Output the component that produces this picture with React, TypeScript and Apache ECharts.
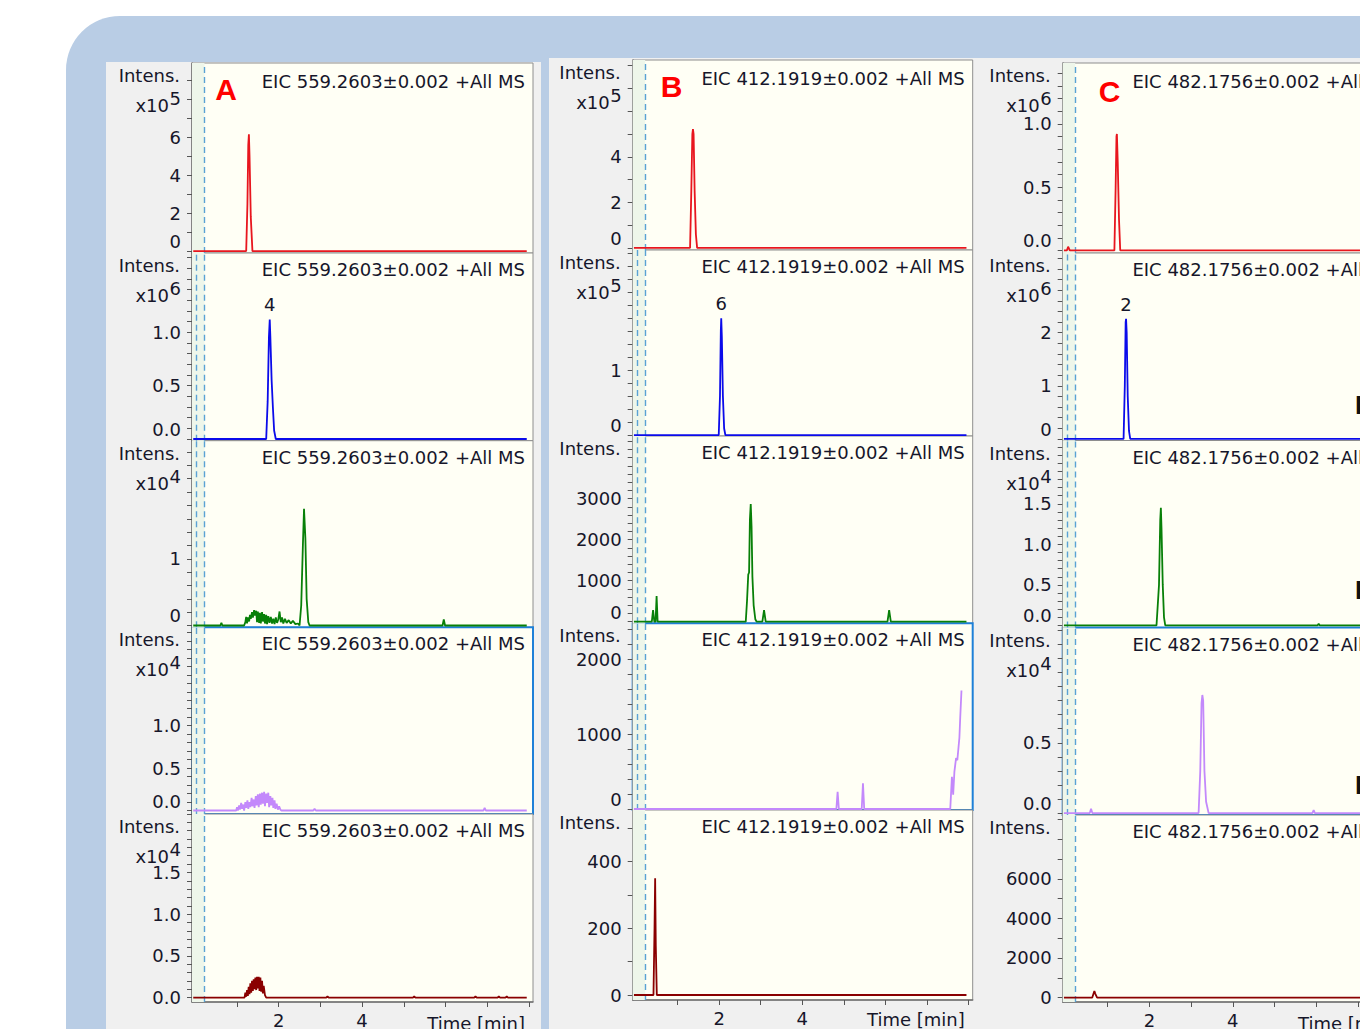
import React, { useEffect, useRef } from "react";
import * as echarts from "echarts";

const FONT = "DejaVu Sans";
const TEXT = "#16162a";

// ---------- time axis ----------
const X_MIN = -0.08;
const X_MAX = 8.1;
const timeTicks = [1, 2, 3, 4, 5, 6, 7, 8];
const timeLabels = [2, 4];
const timeTitle = "Time [min]";
const dashedOne = [0.22];
const dashedTwo = [0.03, 0.22];

// ---------- titles ----------
const panelLetters = ["A", "B", "C"];
const eicTitles = [
  "EIC 559.2603±0.002 +All MS",
  "EIC 412.1919±0.002 +All MS",
  "EIC 482.1756±0.002 +All MS",
];
const peakLabels = ["4", "6", "2"];

// ---------- traces: [time (min), intensity in displayed units] ----------
// Panel A
const aRed = [[-0.05, 0], [1.22, 0], [1.25, 2.5], [1.27, 5.6], [1.285, 6.15], [1.3, 5.0], [1.33, 1.8], [1.37, 0], [7.95, 0]];
const aBlue = [[-0.05, 0], [1.7, 0], [1.735, 0.35], [1.765, 0.95], [1.785, 1.12], [1.8, 0.95], [1.83, 0.55], [1.86, 0.3], [1.89, 0.08], [1.93, 0], [7.95, 0]];
const aGreen = [[-0.05, 0], [0.6, 0], [0.625, 0.04], [0.65, 0], [1.17, 0], [1.2, 0.05], [1.22, 0.13], [1.24, 0.03], [1.26, 0.12], [1.29, 0.06], [1.31, 0.16], [1.33, 0.1], [1.36, 0.2], [1.38, 0.12], [1.41, 0.23], [1.43, 0.15], [1.46, 0.22], [1.48, 0.05], [1.5, 0.21], [1.53, 0.04], [1.55, 0.19], [1.57, 0.03], [1.6, 0.2], [1.62, 0.06], [1.65, 0.17], [1.67, 0.03], [1.7, 0.16], [1.72, 0.02], [1.75, 0.14], [1.78, 0.04], [1.81, 0.13], [1.84, 0.03], [1.87, 0.1], [1.9, 0.02], [1.93, 0.12], [1.96, 0.04], [1.99, 0.09], [2.02, 0.21], [2.05, 0.05], [2.08, 0.12], [2.11, 0.03], [2.15, 0.1], [2.19, 0.04], [2.24, 0.08], [2.29, 0.03], [2.34, 0.07], [2.4, 0.02], [2.46, 0.03], [2.5, 0], [2.54, 0.3], [2.58, 1.2], [2.607, 1.75], [2.64, 1.3], [2.67, 0.4], [2.71, 0.05], [2.74, 0], [5.93, 0], [5.96, 0.09], [5.99, 0], [7.95, 0]];
const aPurple = [[-0.05, 0], [0.98, 0], [1.0, 0.04], [1.02, 0.0], [1.05, 0.06], [1.07, 0.01], [1.1, 0.09], [1.12, 0.02], [1.15, 0.07], [1.17, 0.0], [1.2, 0.1], [1.22, 0.03], [1.25, 0.12], [1.27, 0.02], [1.3, 0.1], [1.32, 0.04], [1.35, 0.15], [1.37, 0.05], [1.4, 0.13], [1.42, 0.03], [1.45, 0.17], [1.47, 0.06], [1.5, 0.19], [1.52, 0.04], [1.55, 0.2], [1.57, 0.07], [1.6, 0.21], [1.62, 0.08], [1.65, 0.22], [1.67, 0.05], [1.7, 0.2], [1.72, 0.09], [1.75, 0.21], [1.77, 0.04], [1.8, 0.17], [1.82, 0.06], [1.85, 0.15], [1.87, 0.03], [1.9, 0.12], [1.92, 0.02], [1.95, 0.08], [1.98, 0.01], [2.01, 0.05], [2.04, 0.01], [2.065, 0], [2.83, 0], [2.86, 0.02], [2.89, 0], [6.91, 0], [6.94, 0.03], [6.97, 0], [7.95, 0]];
const aDarkRed = [[-0.05, 0], [1.18, 0], [1.2, 0.06], [1.22, 0.01], [1.24, 0.09], [1.26, 0.02], [1.28, 0.13], [1.3, 0.04], [1.32, 0.17], [1.34, 0.06], [1.36, 0.2], [1.38, 0.08], [1.4, 0.22], [1.42, 0.1], [1.44, 0.24], [1.46, 0.09], [1.48, 0.25], [1.5, 0.11], [1.52, 0.25], [1.54, 0.08], [1.56, 0.24], [1.58, 0.07], [1.6, 0.2], [1.62, 0.05], [1.64, 0.14], [1.67, 0.03], [1.7, 0], [3.14, 0], [3.17, 0.015], [3.2, 0], [5.22, 0], [5.25, 0.015], [5.28, 0], [6.69, 0], [6.72, 0.015], [6.75, 0], [7.25, 0], [7.28, 0.015], [7.31, 0], [7.44, 0], [7.47, 0.015], [7.5, 0], [7.95, 0]];

// Panel B
const bRed = [[-0.05, 0], [1.3, 0], [1.33, 2.5], [1.355, 5.0], [1.37, 5.22], [1.385, 5.0], [1.41, 2.5], [1.44, 0.6], [1.47, 0], [7.95, 0]];
const bBlue = [[-0.05, 0], [1.99, 0], [2.02, 0.6], [2.04, 1.6], [2.05, 1.8], [2.065, 1.5], [2.09, 0.6], [2.12, 0.1], [2.15, 0], [7.95, 0]];
const bGreen = [[-0.05, 0], [0.38, 0], [0.41, 285], [0.44, 0], [0.47, 0], [0.495, 627], [0.52, 0], [2.64, 0], [2.67, 500], [2.7, 1150], [2.72, 1200], [2.74, 2500], [2.76, 2870], [2.78, 2300], [2.8, 1100], [2.83, 400], [2.87, 60], [2.9, 0], [3.04, 0], [3.08, 285], [3.12, 0], [6.05, 0], [6.09, 285], [6.13, 0], [7.95, 0]];
const bPurple = [[-0.05, 0], [4.82, 0], [4.85, 230], [4.88, 0], [5.43, 0], [5.46, 343], [5.49, 0], [7.56, 0], [7.6, 430], [7.63, 190], [7.66, 500], [7.7, 680], [7.73, 650], [7.76, 830], [7.78, 950], [7.8, 1220], [7.83, 1580]];
const bDarkRed = [[-0.05, 0], [0.42, 0], [0.445, 200], [0.46, 350], [0.475, 150], [0.5, 0], [7.95, 0]];

// Panel C
const cRed = [[-0.05, 0], [0.02, 0], [0.05, 0.03], [0.09, 0], [1.16, 0], [1.19, 0.5], [1.21, 0.9], [1.22, 0.92], [1.24, 0.7], [1.27, 0.25], [1.3, 0], [7.95, 0]];
const cBlue = [[-0.05, 0], [1.38, 0], [1.41, 1.0], [1.43, 2.2], [1.44, 2.26], [1.455, 2.0], [1.48, 0.8], [1.51, 0.15], [1.54, 0], [7.95, 0]];
const cGreen = [[-0.05, 0], [2.17, 0], [2.2, 0.25], [2.23, 0.5], [2.26, 1.3], [2.275, 1.45], [2.29, 1.2], [2.32, 0.5], [2.35, 0.1], [2.38, 0], [6.03, 0], [6.06, 0.02], [6.09, 0], [7.95, 0]];
const cPurple = [[-0.05, 0], [0.57, 0], [0.6, 0.03], [0.63, 0], [3.18, 0], [3.22, 0.3], [3.25, 0.78], [3.27, 0.84], [3.29, 0.8], [3.32, 0.3], [3.36, 0.08], [3.42, 0], [5.91, 0], [5.94, 0.02], [5.97, 0], [7.95, 0]];
const cDarkRed = [[-0.05, 0], [0.63, 0], [0.66, 200], [0.68, 330], [0.7, 200], [0.745, 0], [7.95, 0]];

const traces = [
  [aRed, aBlue, aGreen, aPurple, aDarkRed],
  [bRed, bBlue, bGreen, bPurple, bDarkRed],
  [cRed, cBlue, cGreen, cPurple, cDarkRed],
];
// apex of the labelled peak (row 2 of each panel)
const peakPoints = [[1.785, 1.12], [2.05, 1.8], [1.44, 2.26]];

// ---------- intensity axes ----------
type YCfg = { min: number; max: number; step: number; labels: number[]; dec: number; exp: number | null };
const yAxesA: YCfg[] = [
  { min: -0.1, max: 9.9, step: 1, labels: [0, 2, 4, 6], dec: 0, exp: 5 },
  { min: -0.016, max: 1.743, step: 0.1, labels: [0, 0.5, 1.0], dec: 1, exp: 6 },
  { min: -0.027, max: 2.77, step: 0.2, labels: [0, 1], dec: 0, exp: 4 },
  { min: -0.041, max: 2.16, step: 0.1, labels: [0, 0.5, 1.0], dec: 1, exp: 4 },
  { min: -0.053, max: 2.2, step: 0.1, labels: [0, 0.5, 1.0, 1.5], dec: 1, exp: 4 },
];
const yAxesB: YCfg[] = [
  { min: -0.09, max: 8.25, step: 1, labels: [0, 2, 4], dec: 0, exp: 5 },
  { min: -0.015, max: 2.85, step: 0.2, labels: [0, 1], dec: 0, exp: 5 },
  { min: -39, max: 4529, step: 200, labels: [0, 1000, 2000, 3000], dec: 0, exp: null },
  { min: -13, max: 2476, step: 200, labels: [0, 1000, 2000], dec: 0, exp: null },
  { min: -15, max: 555, step: 100, labels: [0, 200, 400], dec: 0, exp: null },
];
const yAxesC: YCfg[] = [
  { min: -0.02, max: 1.48, step: 0.1, labels: [0, 0.5, 1.0], dec: 1, exp: 6 },
  { min: -0.03, max: 3.5, step: 0.2, labels: [0, 1, 2], dec: 0, exp: 6 },
  { min: -0.025, max: 2.28, step: 0.1, labels: [0, 0.5, 1.0, 1.5], dec: 1, exp: 4 },
  { min: -0.014, max: 1.32, step: 0.1, labels: [0, 0.5], dec: 1, exp: 4 },
  { min: -225, max: 9225, step: 1000, labels: [0, 2000, 4000, 6000], dec: 0, exp: null },
];
const yAxes = [yAxesA, yAxesB, yAxesC];

// ---------- layout (pixels) ----------
const CANVAS_W = 1420;
const PANELS = [
  { left: 192, width: 341, rows: [63, 253, 440.7, 627.3, 814, 1004], gray: [106, 62, 435], letter: [226, 89] },
  { left: 632.7, width: 340, rows: [60, 250, 436, 623.3, 810, 1000], gray: [549, 58, 433], letter: [671.5, 86] },
  { left: 1062.7, width: 341, rows: [63, 253, 440.5, 627.5, 815, 1004], gray: [982, 58, 440], letter: [1109.5, 91] },
];
const ROW_COLORS = ["#e8161e", "#0b0bea", "#088008", "#c389fb", "#8a0000"];

function ticksFor(c: YCfg) {
  const out: number[] = [];
  const n = Math.floor(c.max / c.step + 1e-9);
  for (let i = 0; i <= n; i++) out.push(+(i * c.step).toFixed(6));
  return out;
}

function buildOption() {
  const grids: any[] = [];
  const xAxis: any[] = [];
  const yAxis: any[] = [];
  const series: any[] = [];
  const graphic: any[] = [];

  graphic.push({ type: "rect", z: -20, shape: { x: 66, y: 16, width: 1400, height: 1100, r: [54, 0, 0, 0] }, style: { fill: "#b9cde5" } });

  PANELS.forEach((p, pi) => {
    graphic.push({ type: "rect", z: -15, shape: { x: p.gray[0], y: p.gray[1], width: p.gray[2], height: 1100 }, style: { fill: "#f0f0f0" } });
    graphic.push({
      type: "text", z: 60, x: p.letter[0], y: p.letter[1],
      style: { text: panelLetters[pi], fontSize: 30, fontWeight: "bold", fontFamily: "Liberation Sans", fill: "#ff0000", align: "center", verticalAlign: "middle" },
    });
    graphic.push({
      type: "text", z: 60, x: p.left + p.width - 8, y: p.rows[5] + 19,
      style: { text: timeTitle, fontSize: 18, fontFamily: FONT, fill: TEXT, align: "right", verticalAlign: "middle" },
    });

    for (let r = 0; r < 5; r++) {
      const idx = pi * 5 + r;
      const top = p.rows[r];
      const bottom = p.rows[r + 1];
      const cfg = yAxes[pi][r];
      const color = ROW_COLORS[r];
      grids.push({
        left: p.left, top, width: p.width, height: bottom - top, show: true,
        backgroundColor: "#fffff5",
        borderColor: r === 3 ? "#1e80d8" : "#8e8e8e",
        borderWidth: r === 3 ? 2 : 1,
      });
      const isBottom = r === 4;
      xAxis.push({
        gridIndex: idx, type: "value", min: X_MIN, max: X_MAX, show: isBottom,
        axisLine: { show: true, onZero: false, lineStyle: { color: "#707070", width: 1.5 } },
        axisTick: { show: true, customValues: timeTicks, length: 5, lineStyle: { color: "#555" } },
        axisLabel: { show: true, customValues: timeLabels, margin: 9, fontSize: 18, fontFamily: FONT, color: TEXT },
        splitLine: { show: false },
      });
      const labels = cfg.labels;
      yAxis.push({
        gridIndex: idx, type: "value", min: cfg.min, max: cfg.max,
        axisLine: { show: true, onZero: false, lineStyle: { color: "#707070", width: 1.5 } },
        axisTick: { show: true, customValues: ticksFor(cfg), length: 5, lineStyle: { color: "#555" } },
        axisLabel: {
          show: true, customValues: labels, margin: 11, fontSize: 18, fontFamily: FONT, color: TEXT,
          formatter: (v: number) => {
            const s = v.toFixed(cfg.dec);
            return Math.abs(v) < 1e-9 && !isBottom ? `{z|${s}}` : s;
          },
          rich: { z: { fontSize: 18, fontFamily: FONT, color: TEXT, padding: [0, 0, 19, 0] } },
        },
        splitLine: { show: false },
      });

      graphic.push({
        type: "text", z: 60, x: p.left - 12, y: top + 12.5,
        style: { text: "Intens.", fontSize: 18, fontFamily: FONT, fill: TEXT, align: "right", verticalAlign: "middle" },
      });
      if (cfg.exp !== null) {
        graphic.push({
          type: "text", z: 60, x: p.left - 23, y: top + 42.5,
          style: { text: "x10", fontSize: 18, fontFamily: FONT, fill: TEXT, align: "right", verticalAlign: "middle" },
        });
        graphic.push({
          type: "text", z: 60, x: p.left - 22.5, y: top + 35.5,
          style: { text: String(cfg.exp), fontSize: 18, fontFamily: FONT, fill: TEXT, align: "left", verticalAlign: "middle" },
        });
      }
      graphic.push({
        type: "text", z: 60, x: p.left + p.width - 8, y: top + (r === 0 ? 18.5 : 16.5),
        style: { text: eicTitles[pi], fontSize: 18, fontFamily: FONT, fill: TEXT, align: "right", verticalAlign: "middle" },
      });

      const s: any = {
        type: "line", xAxisIndex: idx, yAxisIndex: idx, data: traces[pi][r],
        showSymbol: false, symbol: "none", silent: true, clip: true, z: 5,
        lineStyle: { color, width: 1.8 }, itemStyle: { color },
        markLine: {
          symbol: ["none", "none"], silent: true, label: { show: false },
          lineStyle: { type: [6, 4], color: "#5aa2d4", width: 1.4 },
          data: (r === 0 || r === 4 ? dashedOne : dashedTwo).map((x) => ({ xAxis: x })),
        },
        markArea: {
          silent: true, itemStyle: { color: "#eef6ea" },
          data: [[{ xAxis: X_MIN }, { xAxis: 0.22 }]],
        },
      };
      if (r === 1) {
        s.markPoint = {
          symbol: "circle", symbolSize: 1, silent: true,
          itemStyle: { color: "rgba(0,0,0,0)" },
          label: { show: true, position: "top", distance: 5, formatter: peakLabels[pi], fontSize: 18, fontFamily: FONT, color: TEXT },
          data: [{ coord: peakPoints[pi] }],
        };
      }
      series.push(s);
    }
  });

  // partially visible bold letters at the right edge of panel C
  [405, 590, 785].forEach((y) => {
    graphic.push({ type: "text", z: 60, x: 1355, y, style: { text: "D", fontSize: 26, fontWeight: "bold", fontFamily: "Liberation Sans", fill: "#111", align: "left", verticalAlign: "middle" } });
  });

  return { animation: false, grid: grids, xAxis, yAxis, series, graphic };
}

export default function App() {
  const ref = useRef<HTMLDivElement>(null);
  useEffect(() => {
    const chart = echarts.init(ref.current!, null, { renderer: "svg" });
    chart.setOption(buildOption() as any);
    return () => chart.dispose();
  }, []);
  return (
    <div style={{ position: "absolute", left: 0, top: 0, width: 1360, height: 1029, overflow: "hidden" }}>
      <div ref={ref} style={{ width: CANVAS_W, height: 1029 }} />
    </div>
  );
}
